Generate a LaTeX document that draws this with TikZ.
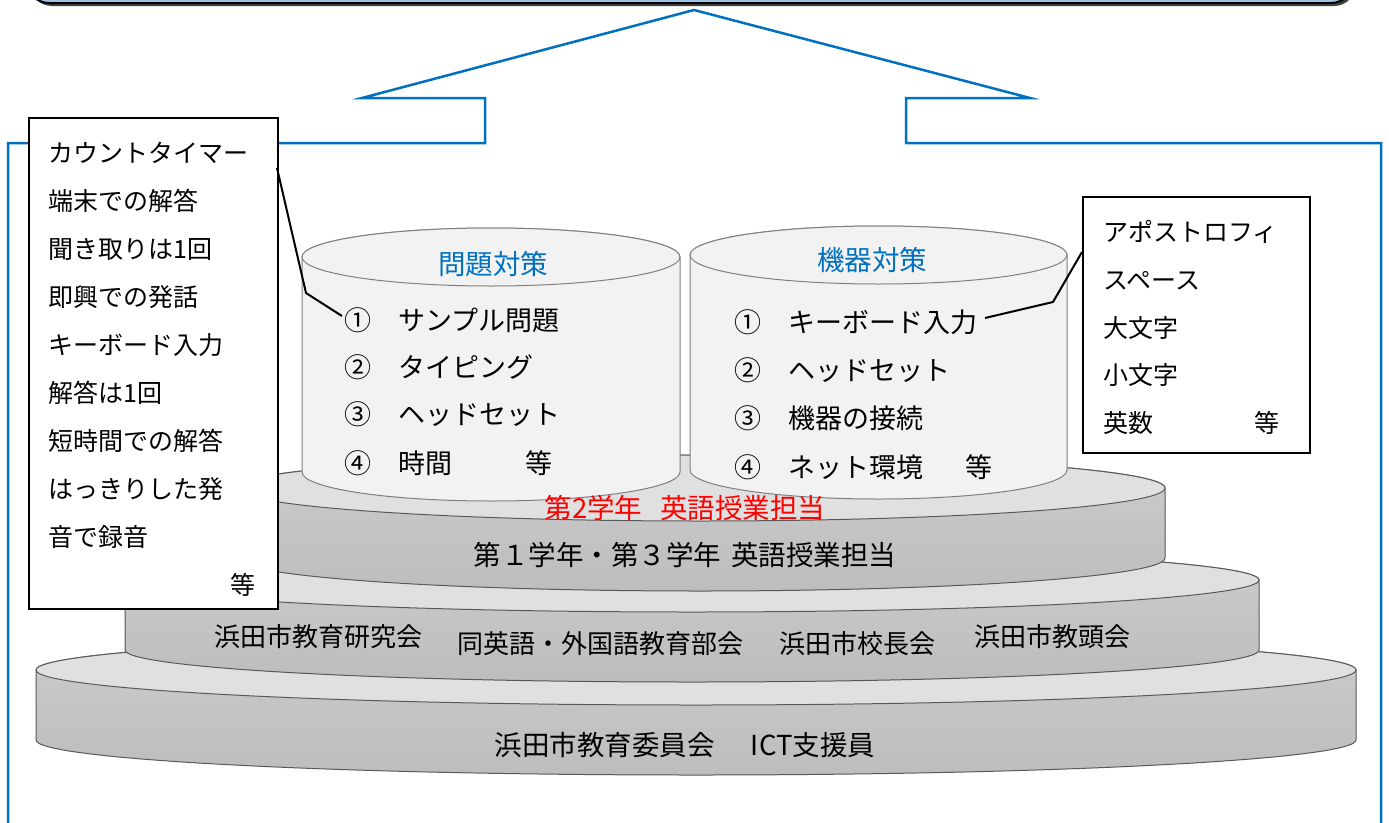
\documentclass[tikz,border=0pt]{standalone}
\usepackage{fontspec}
\setmainfont{Noto Sans CJK JP}
\definecolor{myblue}{HTML}{0070C0}
\definecolor{boxblue}{HTML}{9DC3E6}
\definecolor{edgegray}{HTML}{595959}
\definecolor{cylfill}{HTML}{F2F2F2}
\definecolor{cyledge}{HTML}{7F7F7F}
\definecolor{topface}{HTML}{E0E0E0}
\definecolor{sidetop}{HTML}{CCCCCC}
\definecolor{sidebot}{HTML}{BDBDBD}
\definecolor{myred}{HTML}{FF0000}
% cx rx ty ry h sidestyle topstyle
\newcommand\drawcan[7]{%
  \path[#6] ({#1-#2},#3) -- ({#1-#2},{#3+#5})
    arc[start angle=180,end angle=360,x radius=#2pt,y radius=#4pt]
    -- ({#1+#2},#3)
    arc[start angle=0,end angle=180,x radius=#2pt,y radius=#4pt] -- cycle;
  \path[#7] (#1,#3) ellipse[x radius=#2pt,y radius=#4pt];
}
\tikzset{
  discside/.style={top color=sidetop,bottom color=sidebot,draw=edgegray,line width=1pt},
  disctop/.style={fill=topface,draw=edgegray,line width=1pt},
  cylside/.style={fill=cylfill,draw=cyledge,line width=1pt},
  cyltop/.style={fill=cylfill,draw=cyledge,line width=1pt},
  caltext/.style={font=\fontsize{25}{30}\selectfont,anchor=base west,inner sep=0pt},
  itemtext/.style={font=\fontsize{27}{30}\selectfont,anchor=base west,inner sep=0pt},
  lbltext/.style={font=\fontsize{26}{30}\selectfont,anchor=base,inner sep=0pt},
  biglbl/.style={font=\fontsize{27.5}{30}\selectfont,anchor=base,inner sep=0pt},
  calbox/.style={draw=black,line width=2pt,fill=white,anchor=north west,inner sep=0pt},
  leader/.style={draw=black,line width=2pt},
  bluearrow/.style={draw=myblue,line width=2.5pt,line join=miter},
}
\begin{document}
\begin{tikzpicture}[x=1pt,y=-1pt]
\useasboundingbox (0,0) rectangle (1389,822);
\clip (0,0) rectangle (1389,822);
% top box
\fill[black!75,rounded corners=22pt] (30,-60) rectangle (1356,6);
\draw[fill=boxblue,line width=2pt,rounded corners=22pt] (27,-60) rectangle (1353,3);
% blue arrow outline
\draw[bluearrow] (8,840) -- (8,143) -- (485,143) -- (485,98) -- (362,98) -- (694,10)
  -- (1030,98) -- (906,98) -- (906,143) -- (1381,143) -- (1381,840);
% discs
\drawcan{696}{660}{670}{35}{70}{discside}{disctop}
\drawcan{692}{567}{580}{32}{70}{discside}{disctop}
\drawcan{700}{465}{488}{33}{70}{discside}{disctop}
% cylinders
\drawcan{491}{189}{257}{29}{215}{cylside}{cyltop}
\drawcan{878.5}{188.5}{255}{29}{215}{cylside}{cyltop}
% cylinder texts
\node[biglbl,text=myblue] (t1) at (493,274) {問題対策};
\node[biglbl,text=myblue] (t2) at (872,270) {機器対策};
\node[itemtext] (a1) at (344,330.5) {①　サンプル問題};
\node[itemtext] (a2) at (344,377.5) {②　タイピング};
\node[itemtext] (a3) at (344,424.5) {③　ヘッドセット};
\node[itemtext] (a4) at (344,473.5) {④　時間};
\node[itemtext] (a5) at (525,473.5) {等};
\node[itemtext] (b1) at (734,332.5) {①　キーボード入力};
\node[itemtext] (b2) at (734,380.5) {②　ヘッドセット};
\node[itemtext] (b3) at (734,428.5) {③　機器の接続};
\node[itemtext] (b4) at (734,477.5) {④　ネット環境};
\node[itemtext] (b5) at (965,477.5) {等};
% disc texts
\node[biglbl,text=myred] (d0) at (685,518.5) {第2学年\hspace{18pt}英語授業担当};
\node[biglbl] (d1) at (685,565.5) {第１学年・第３学年\hspace{10pt}英語授業担当};
\node[lbltext] (d2a) at (318,646) {浜田市教育研究会};
\node[lbltext] (d2b) at (600,653) {同英語・外国語教育部会};
\node[lbltext] (d2c) at (857,653) {浜田市校長会};
\node[lbltext] (d2d) at (1052,646) {浜田市教頭会};
\node[biglbl] (d3) at (685,755.5) {浜田市教育委員会\hspace{36pt}ICT支援員};
% left callout
\node[calbox,minimum width=249pt,minimum height=491pt] (lbox) at (28,117) {};
\foreach \t [count=\i from 0] in {カウントタイマー,端末での解答,聞き取りは1回,即興での発話,キーボード入力,解答は1回,短時間での解答,はっきりした発,音で録音}
  \node[caltext] (l\i) at (48,{162.5+48*\i}) {\t};
\node[caltext,anchor=base east] (lend) at (256,594.5) {等};
\coordinate (lc0) at (277,168);
\coordinate (lc1) at (306,293);
\coordinate (lc2) at (342,316);
\draw[leader] (lc0) -- (lc1) -- (lc2);
% right callout
\node[calbox,minimum width=227pt,minimum height=256pt] (rbox) at (1082,196) {};
\foreach \t [count=\i from 0] in {アポストロフィ,スペース,大文字,小文字,英数}
  \node[caltext] (r\i) at (1103,{241.5+47.8*\i}) {\t};
\node[caltext,anchor=base east] (rend) at (1280,432.5) {等};
\coordinate (rc0) at (1082,252);
\coordinate (rc1) at (1053,302);
\coordinate (rc2) at (985,318);
\draw[leader] (rc0) -- (rc1) -- (rc2);
\end{tikzpicture}
\end{document}
